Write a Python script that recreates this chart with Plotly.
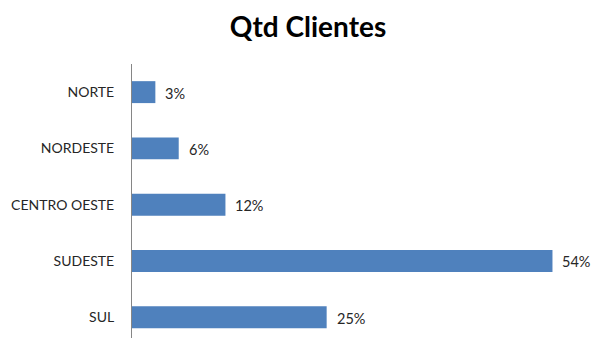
import plotly.graph_objects as go

categories = ["SUL", "SUDESTE", "CENTRO OESTE", "NORDESTE", "NORTE"]
values = [25, 54, 12, 6, 3]
labels = ["25%", "54%", "12%", "6%", "3%"]

W, H = 594, 338
fig = go.Figure()
fig.add_trace(go.Bar(
    y=categories, x=values, orientation="h",
    marker=dict(color="#4F81BD", line=dict(width=0)),
    width=0.39, hoverinfo="skip",
))

for c, v, t in zip(categories, values, labels):
    fig.add_annotation(x=v, y=c, text=t, showarrow=False, xanchor="left",
                       yanchor="middle", xshift=8, yshift=-1,
                       font=dict(family="Lato", size=14.5, color="#262626"))

fig.update_layout(
    width=W, height=H,
    margin=dict(l=132, r=10, t=64, b=0),
    paper_bgcolor="white", plot_bgcolor="white",
    showlegend=False,
    title=dict(text="<b>Qtd Clientes</b>", x=308 / W, xref="container",
               xanchor="center", y=1 - 27 / H, yref="container", yanchor="middle",
               font=dict(family="Lato", size=28, color="black")),
    xaxis=dict(range=[0, 58.05], showgrid=False, zeroline=False,
               showticklabels=False, showline=False, ticks=""),
    yaxis=dict(categoryorder="array", categoryarray=categories,
               range=[-0.37, 4.5], showgrid=False, zeroline=False,
               showline=True, linecolor="#868686", linewidth=1,
               ticks="", ticklabelstandoff=14,
               tickfont=dict(family="Lato", size=14, color="#262626")),
)

fig.write_html("out.html")
